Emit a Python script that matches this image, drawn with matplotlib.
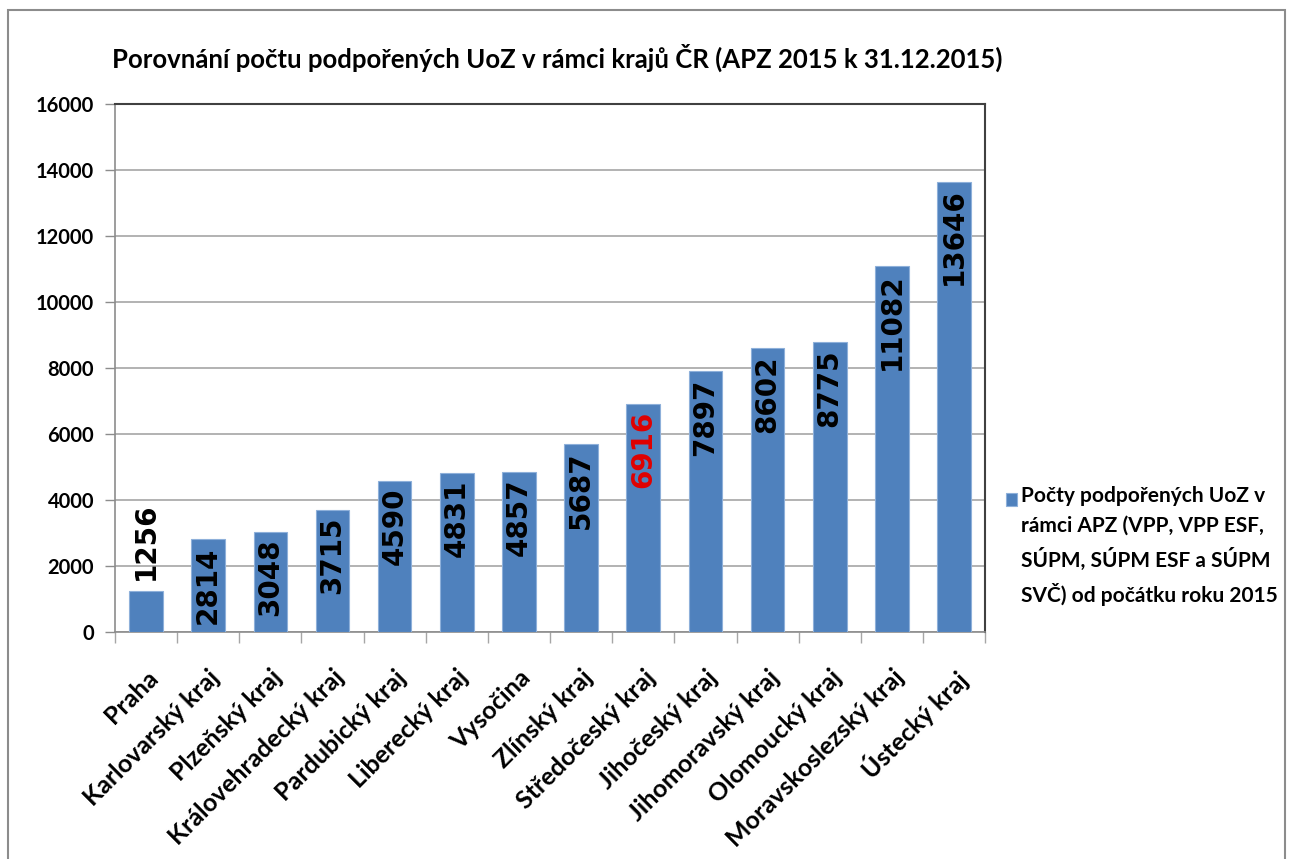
import matplotlib
matplotlib.use("Agg")
import matplotlib.pyplot as plt
from matplotlib.patches import Rectangle

regions = ["Praha", "Karlovarský kraj", "Plzeňský kraj", "Královehradecký kraj",
           "Pardubický kraj", "Liberecký kraj", "Vysočina", "Zlínský kraj",
           "Středočeský kraj", "Jihočeský kraj", "Jihomoravský kraj",
           "Olomoucký kraj", "Moravskoslezský kraj", "Ústecký kraj"]
counts = [1256, 2814, 3048, 3715, 4590, 4831, 4857, 5687, 6916, 7897,
          8602, 8775, 11082, 13646]
highlight = "Středočeský kraj"
series_label = ("Počty podpořených UoZ v\nrámci APZ (VPP, VPP ESF,\n"
                "SÚPM, SÚPM ESF a SÚPM\nSVČ) od počátku roku 2015")
title = "Porovnání počtu podpořených UoZ v rámci krajů ČR (APZ 2015 k 31.12.2015)"

bar_color = "#4F81BD"
font = "Lato"

fig = plt.figure(figsize=(12.93, 8.59), dpi=100)
ax = fig.add_axes([0.0889, 0.264, 0.673, 0.615])

x = range(len(regions))
ax.bar(x, counts, width=0.54, color=bar_color, edgecolor="#8EB0DA",
       linewidth=0.8, label=series_label, zorder=3)

ax.set_ylim(0, 16000)
ax.set_xlim(-0.5, len(regions) - 0.5)
ax.set_yticks(range(0, 16001, 2000))
ax.yaxis.grid(True, color="#A6A6A6", linewidth=1.2, zorder=0)
ax.set_axisbelow(True)

for lbl in ax.get_yticklabels():
    lbl.set_fontfamily(font)
    lbl.set_fontweight("bold")
    lbl.set_fontsize(14.5)
ax.tick_params(axis="y", length=7, width=1, color="#8C8C8C", pad=8)

ax.set_xticks(list(x))
ax.set_xticklabels(regions, rotation=45, ha="right", rotation_mode="anchor",
                   fontfamily=font, fontweight="bold", fontsize=18)
ax.tick_params(axis="x", which="major", length=0, pad=24)
ax.set_xticks([i + 0.5 for i in range(-1, len(regions))], minor=True)
ax.tick_params(axis="x", which="minor", length=8, width=1, color="#A6A6A6")

for side in ("left", "bottom"):
    ax.spines[side].set_color("#8C8C8C")
    ax.spines[side].set_linewidth(1.2)
for side in ("top", "right"):
    ax.spines[side].set_color("#404040")
    ax.spines[side].set_linewidth(1.5)

for i, (name, v) in enumerate(zip(regions, counts)):
    color = "#E00000" if name == highlight else "black"
    if v < 2000:
        ax.annotate(str(v), (i, v), xytext=(0, 8), textcoords="offset points",
                    rotation=90, ha="center", va="bottom", fontsize=20,
                    fontweight="bold", color=color, zorder=4)
    else:
        ax.annotate(str(v), (i, v), xytext=(0, -5), textcoords="offset points",
                    rotation=90, ha="center", va="top", fontsize=20,
                    fontweight="bold", color=color, zorder=4)

fig.text(0.087, 0.933, title, fontfamily=font, fontweight="bold",
         fontsize=18.5, ha="left", va="center")

# legend drawn by hand so the swatch sits beside the first line
fig.patches.append(Rectangle((1006 / 1293, 1 - 506 / 859), 11 / 1293, 13 / 859,
                             transform=fig.transFigure, facecolor=bar_color,
                             edgecolor="#8EB0DA", linewidth=0.8))
fig.text(1021 / 1293, 1 - 486 / 859, series_label, fontfamily=font,
         fontweight="bold", fontsize=15, ha="left", va="top", linespacing=1.62)

fig.patches.append(Rectangle((0.006, -0.05), 0.988, 1.038,
                             transform=fig.transFigure, fill=False,
                             edgecolor="#8C8C8C", linewidth=1.5))

fig.savefig("out.png", dpi=100)
